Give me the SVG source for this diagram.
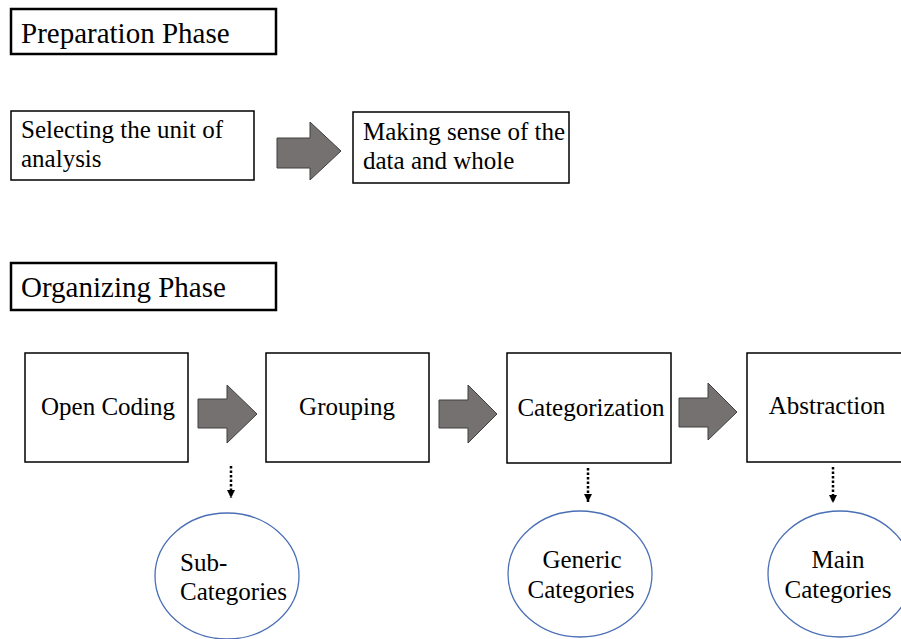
<svg xmlns="http://www.w3.org/2000/svg" width="901" height="639" viewBox="0 0 901 639" font-family="'Liberation Serif', 'DejaVu Serif', 'Times New Roman', serif">
<defs>
<style>
text{font-family:'Liberation Serif','DejaVu Serif','Times New Roman',serif;fill:#000}
.title{font-size:29px}
.bt{font-size:25px}
.nt{font-size:25px;text-anchor:middle}
.phase{fill:#fff;stroke:#000;stroke-width:2.5}
.box{fill:#fff;stroke:#000;stroke-width:1.5}
.blk{fill:#767171;stroke:#3f3f3f;stroke-width:1}
.ell{fill:#fff;stroke:#4a6fb5;stroke-width:1.3}
.dot{stroke:#000;stroke-width:2.5;stroke-dasharray:2.5 2;fill:none}
</style>
<marker id="ah" viewBox="0 0 10 10" refX="10" refY="5" markerWidth="3.4" markerHeight="3.4" orient="auto" markerUnits="strokeWidth">
<path d="M0,0 L10,5 L0,10 Z" fill="#000"/>
</marker>
</defs>
<rect width="901" height="639" fill="#fff"/>

<g id="prep-phase">
<rect class="phase" x="11" y="9" width="265" height="45"/>
<text class="title" x="21" y="43">Preparation Phase</text>
</g>
<g id="select-unit">
<rect class="box" x="11" y="111" width="243" height="69"/>
<text class="bt" x="21" y="138">Selecting the unit of</text>
<text class="bt" x="21" y="167">analysis</text>
</g>
<g id="making-sense">
<rect class="box" x="353" y="112" width="216" height="71"/>
<text class="bt" x="363" y="140">Making sense of the</text>
<text class="bt" x="363" y="169">data and whole</text>
</g>

<g id="org-phase">
<rect class="phase" x="11" y="263" width="265" height="47"/>
<text class="title" x="21" y="297">Organizing Phase</text>
</g>
<g id="open-coding">
<rect class="box" x="25" y="353" width="163" height="109"/>
<text class="nt" x="108" y="415">Open Coding</text>
</g>
<g id="grouping">
<rect class="box" x="266" y="353" width="163" height="109"/>
<text class="nt" x="347" y="415">Grouping</text>
</g>
<g id="categorization">
<rect class="box" x="507" y="353" width="164" height="110"/>
<text class="nt" x="591" y="416">Categorization</text>
</g>
<g id="abstraction">
<rect class="box" x="747" y="353" width="170" height="109"/>
<text class="nt" x="827" y="414">Abstraction</text>
</g>

<g id="sub-categories">
<ellipse class="ell" cx="227" cy="576" rx="72" ry="63"/>
<text class="bt" x="180" y="571">Sub-</text>
<text class="bt" x="180" y="600">Categories</text>
</g>
<g id="generic-categories">
<ellipse class="ell" cx="580" cy="574" rx="72" ry="63"/>
<text class="nt" x="582" y="568">Generic</text>
<text class="nt" x="581" y="598">Categories</text>
</g>
<g id="main-categories">
<ellipse class="ell" cx="840" cy="574" rx="72" ry="63"/>
<text class="nt" x="838" y="568">Main</text>
<text class="nt" x="838" y="598">Categories</text>
</g>

<g id="connectors">
<polygon class="blk" points="277,138 310,138 310,122 341,151 310,180 310,168 277,168"/>
<polygon class="blk" points="198,399 227,399 227,385 257,414 227,443 227,428 198,428"/>
<polygon class="blk" points="439,400 468,400 468,385 497,414 468,443 468,428 439,428"/>
<polygon class="blk" points="679,398 708,398 708,383 737,412 708,440 708,427 679,427"/>
<line class="dot" x1="231" y1="466" x2="231" y2="498" marker-end="url(#ah)"/>
<line class="dot" x1="588" y1="468" x2="588" y2="502" marker-end="url(#ah)"/>
<line class="dot" x1="833" y1="467" x2="833" y2="503" marker-end="url(#ah)"/>
</g>
</svg>
